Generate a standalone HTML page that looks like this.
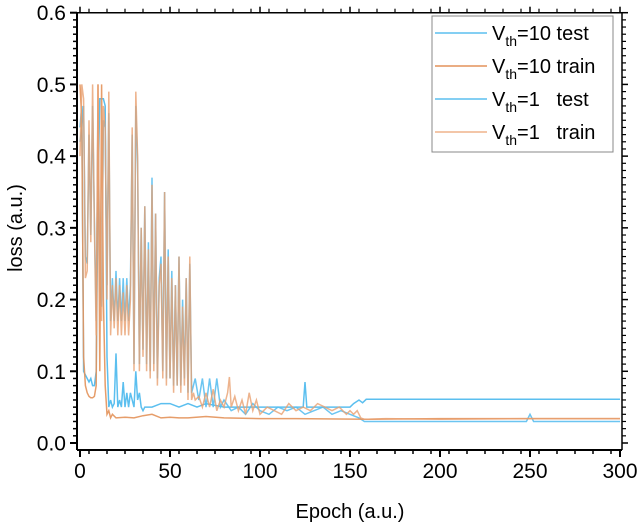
<!DOCTYPE html>
<html><head><meta charset="utf-8"><style>
body{margin:0;background:#fff}
svg text{font-family:"Liberation Sans",Arial,sans-serif;fill:#000}
</style></head><body>
<svg id="chart" width="640" height="527" viewBox="0 0 640 527" xmlns="http://www.w3.org/2000/svg">
<g id="series"></g>
<g id="axes"></g>
<text x="350" y="518" font-size="20" text-anchor="middle">Epoch (a.u.)</text>
<text transform="translate(22,228) rotate(-90)" font-size="20" text-anchor="middle">loss (a.u.)</text>
<g>
<rect x="432" y="16" width="181" height="136" fill="#fff" stroke="#888" stroke-width="1"/>
<g><line x1="435" y1="33" x2="487" y2="33" stroke="#5bbfef" stroke-width="1.5"/><text x="492" y="40" font-size="20">V<tspan font-size="14" dy="6">th</tspan><tspan dy="-6">=10 test</tspan></text></g>
<g><line x1="435" y1="66" x2="487" y2="66" stroke="#e3925a" stroke-width="1.5"/><text x="492" y="73" font-size="20">V<tspan font-size="14" dy="6">th</tspan><tspan dy="-6">=10 train</tspan></text></g>
<g><line x1="435" y1="99" x2="487" y2="99" stroke="#5bbfef" stroke-width="1.5"/><text x="492" y="106" font-size="20">V<tspan font-size="14" dy="6">th</tspan><tspan dy="-6">=1 &#160; test</tspan></text></g>
<g><line x1="435" y1="132" x2="487" y2="132" stroke="#efb48c" stroke-width="1.5"/><text x="492" y="139" font-size="20">V<tspan font-size="14" dy="6">th</tspan><tspan dy="-6">=1 &#160; train</tspan></text></g>
</g>
</svg>
<script>
const xTicks=[0,50,100,150,200,250,300];
const yTicks=[0.0,0.1,0.2,0.3,0.4,0.5,0.6];
const yTickLabels=["0.0","0.1","0.2","0.3","0.4","0.5","0.6"];

const v1TrainEpochs=[0,1,2,3,4,5,6,7,8,9,10,11,12,13,14,15,16,17,18,19,20,21,22,23,24,25,26,27,28,29,30,31,32,33,34,35,36,37,38,39,40,41,42,43,44,45,46,47,48,49,50,51,52,53,54,55,56,57,58,59,60,61,62,63,64,66,68,70,72,74,76,78,80,82,83,84,86,88,90,92,94,96,98,100,104,108,112,116,120,124,128,132,136,140,144,148,150,152,154,156,158,160,170,200,250,300];
const v1TrainValues=[0.40,0.50,0.48,0.23,0.24,0.45,0.28,0.50,0.30,0.15,0.50,0.20,0.17,0.47,0.44,0.20,0.49,0.15,0.22,0.16,0.23,0.15,0.22,0.15,0.21,0.15,0.22,0.15,0.20,0.44,0.10,0.49,0.40,0.10,0.30,0.12,0.33,0.10,0.27,0.09,0.36,0.10,0.32,0.08,0.22,0.25,0.09,0.35,0.08,0.26,0.09,0.23,0.07,0.22,0.08,0.26,0.07,0.19,0.08,0.23,0.06,0.26,0.06,0.07,0.06,0.065,0.05,0.07,0.05,0.075,0.045,0.06,0.05,0.07,0.092,0.05,0.065,0.045,0.06,0.04,0.07,0.045,0.06,0.04,0.05,0.045,0.04,0.055,0.045,0.05,0.045,0.055,0.05,0.045,0.05,0.04,0.045,0.04,0.045,0.035,0.033,0.033,0.034,0.033,0.034,0.034];

const v1TestEpochs=[0,1,2,3,4,5,6,7,8,9,10,11,12,13,14,15,16,17,18,19,20,21,22,23,24,25,26,27,28,29,30,31,32,33,34,35,36,37,38,39,40,41,42,43,44,45,46,47,48,49,50,51,52,53,54,55,56,57,58,59,60,61,62,64,66,68,70,72,74,76,78,80,84,88,92,96,100,105,110,115,120,125,130,135,140,145,150,155,158,160,165,200,248,250,252,300];
const v1TestValues=[0.42,0.44,0.47,0.26,0.25,0.43,0.29,0.47,0.31,0.17,0.46,0.22,0.19,0.45,0.44,0.22,0.46,0.17,0.23,0.17,0.24,0.17,0.23,0.17,0.23,0.17,0.23,0.17,0.22,0.43,0.11,0.47,0.39,0.11,0.30,0.13,0.33,0.11,0.28,0.10,0.37,0.11,0.32,0.09,0.23,0.26,0.10,0.35,0.09,0.27,0.09,0.24,0.08,0.22,0.08,0.26,0.08,0.20,0.09,0.23,0.07,0.25,0.07,0.09,0.06,0.09,0.05,0.09,0.05,0.09,0.05,0.06,0.045,0.05,0.04,0.055,0.045,0.04,0.05,0.045,0.05,0.04,0.045,0.05,0.04,0.045,0.04,0.035,0.03,0.03,0.03,0.03,0.03,0.04,0.03,0.03];

const v10TestEpochs=[0,1,2,3,4,5,6,7,8,9,10,11,12,13,14,15,16,17,18,19,20,21,22,23,24,25,26,27,28,29,30,31,32,33,34,35,36,40,45,50,55,60,65,70,80,90,100,110,120,124,125,126,130,140,150,152,155,157,159,300];
const v10TestValues=[0.44,0.47,0.10,0.095,0.09,0.085,0.09,0.08,0.08,0.10,0.35,0.48,0.48,0.48,0.47,0.12,0.05,0.06,0.05,0.055,0.125,0.05,0.06,0.05,0.085,0.05,0.07,0.05,0.07,0.06,0.05,0.10,0.06,0.07,0.05,0.045,0.05,0.05,0.055,0.055,0.05,0.055,0.05,0.055,0.05,0.05,0.05,0.05,0.05,0.05,0.085,0.05,0.05,0.05,0.05,0.055,0.06,0.056,0.061,0.061];

const v10TrainEpochs=[0,1,2,3,4,5,6,7,8,9,10,11,12,13,14,15,16,17,18,20,25,30,35,40,45,50,55,60,70,80,100,120,160,200,300];
const v10TrainValues=[0.50,0.45,0.12,0.08,0.07,0.065,0.063,0.063,0.065,0.08,0.50,0.10,0.50,0.20,0.08,0.04,0.045,0.035,0.04,0.035,0.036,0.035,0.038,0.04,0.035,0.036,0.035,0.035,0.037,0.035,0.034,0.034,0.033,0.034,0.034];

const X0=80,X1=620,Y0=443,Y1=12.7;
function xs(v){return X0+(v/300)*(X1-X0);}
function ys(v){return Y0-(v/0.6)*(Y0-Y1);}
const NS="http://www.w3.org/2000/svg";
const sg=document.getElementById('series');
function drawSeries(ep,vals,color,name,op){
  const p=document.createElementNS(NS,'path');
  let d='';
  for(let i=0;i<ep.length;i++){d+=(i?'L':'M')+xs(ep[i]).toFixed(1)+' '+ys(vals[i]).toFixed(1);}
  p.setAttribute('d',d);p.setAttribute('fill','none');p.setAttribute('stroke',color);
  p.setAttribute('stroke-width','1.5');p.setAttribute('stroke-opacity',op);
  
  
  sg.appendChild(p);
}
drawSeries(v10TestEpochs,v10TestValues,'#5bbfef','line-vth10-test','1');
drawSeries(v1TestEpochs,v1TestValues,'#5bbfef','line-vth1-test','0.9');
drawSeries(v10TrainEpochs,v10TrainValues,'#e3925a','line-vth10-train','0.9');
drawSeries(v1TrainEpochs,v1TrainValues,'#e8a070','line-vth1-train','0.8');

const ag=document.getElementById('axes');
function ln(x1,y1,x2,y2,w,name){const l=document.createElementNS(NS,'line');l.setAttribute('x1',x1);l.setAttribute('y1',y1);l.setAttribute('x2',x2);l.setAttribute('y2',y2);l.setAttribute('stroke','#000');l.setAttribute('stroke-width',w);


ag.appendChild(l);}
function tx(x,y,s,anc,name){const t=document.createElementNS(NS,'text');t.setAttribute('x',x);t.setAttribute('y',y);t.setAttribute('font-size','21');t.setAttribute('text-anchor',anc);t.textContent=s;


ag.appendChild(t);}
const L=77,R=622,T=12.7,B=450;
ln(L,T,R,T,1.5,'top-frame');ln(L,B,R,B,2,'x-axis-line');ln(L,T,L,B,2,'y-axis-line');ln(R,T,R,B,1.5,'right-frame');
xTicks.forEach((v,i)=>{const x=xs(v);ln(x,B,x,B+7,2,'x-tick');ln(x,T,x,T-6,1.5,'top-tick');tx(x,478,String(v),'middle','x-tick-label');});
for(let v=5;v<300;v+=10){const x=xs(v);ln(x,B,x,B+4,1.5,'x-minor-tick');ln(x,T,x,T-4,1.2,'top-minor-tick');}
yTicks.forEach((v,i)=>{const y=ys(v);ln(L,y,L-7,y,2,'y-tick');ln(R,y,R+6,y,1.5,'right-tick');tx(L-11,y+7.5,yTickLabels[i],'end','y-tick-label');});
for(let k=-1;k<60;k++){if(k%10===0)continue;const v=k/100;const y=ys(v);if(y>B)continue;ln(L,y,L-4,y,1.5,'y-minor-tick');ln(R,y,R+4,y,1.2,'right-minor-tick');}
</script>
</body></html>
